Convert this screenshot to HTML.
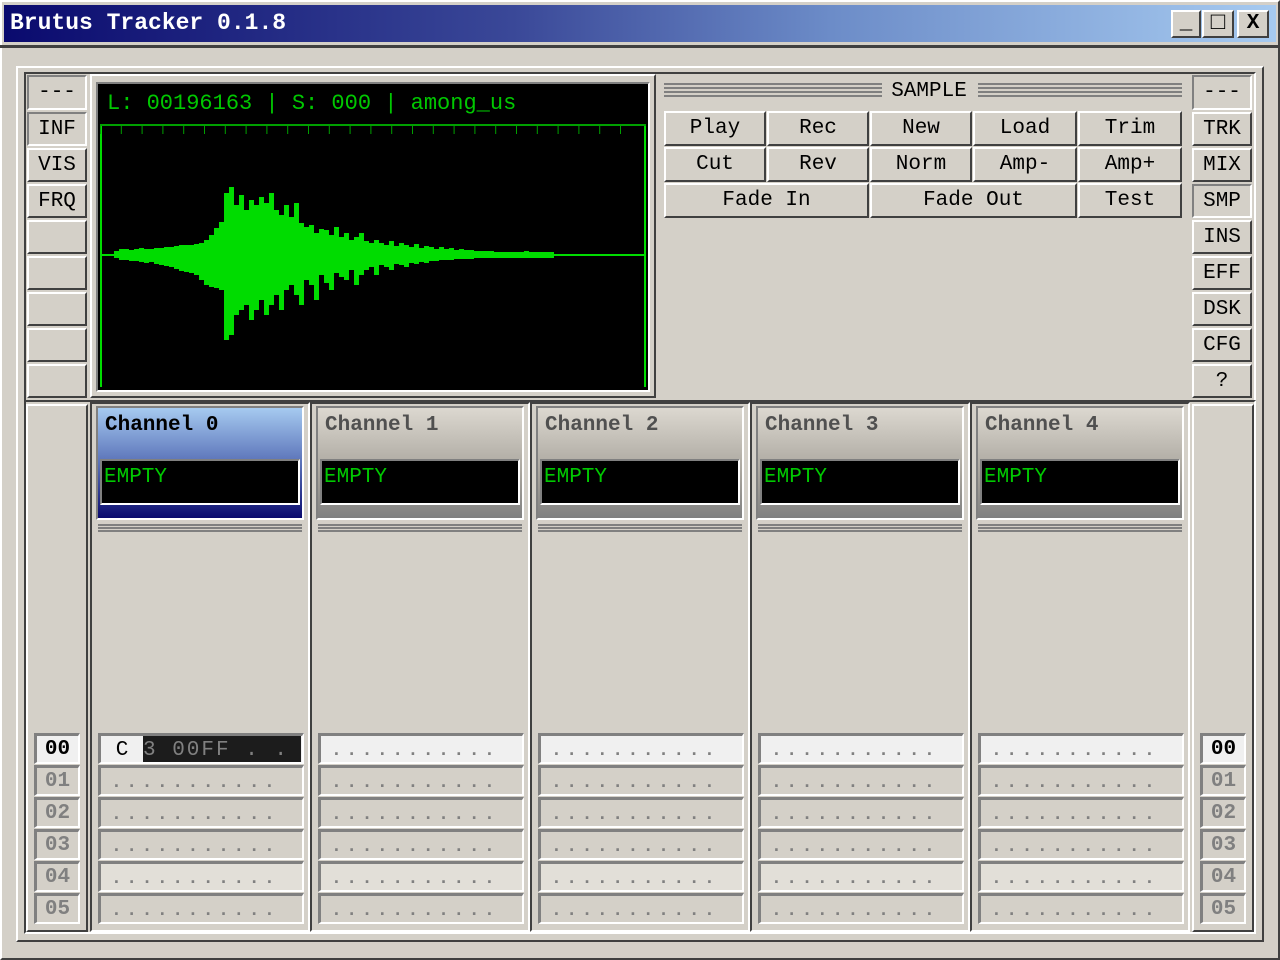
<!DOCTYPE html>
<html><head><meta charset="utf-8"><style>
*{margin:0;padding:0;box-sizing:border-box}
body{width:1280px;height:960px;background:#d4d0c8;position:relative;overflow:hidden;font-family:"Liberation Mono",monospace}
.a{position:absolute}
.rz{position:absolute;background:#d4d0c8;border:2px solid;border-color:#fff #404040 #404040 #fff;text-align:center;font-size:21px;color:#000;line-height:31px}
.sk{border-color:#808080 #fff #fff #808080}
.frm{position:absolute;border:2px solid;border-color:#fff #404040 #404040 #fff}
.frmi{position:absolute;border:2px solid;border-color:#404040 #fff #fff #404040}
.row{position:absolute;height:31px;overflow:hidden;border-top:3px solid #808080;border-left:3px solid #808080;border-bottom:2px solid #fff;border-right:2px solid #fff;background:#d4d0c8;color:#808080;font-size:18px;font-weight:bold;letter-spacing:4.5px;padding-left:10px;line-height:30px;white-space:pre}
.num{position:absolute;left:34px;width:46px;height:31px;border-top:3px solid #808080;border-left:3px solid #808080;border-bottom:2px solid #fff;border-right:2px solid #fff;font-weight:bold;font-size:21px;color:#808080;text-align:center;line-height:28px}
.sep{position:absolute;height:9px;background:repeating-linear-gradient(#808080 0 2px,transparent 2px 3px,#808080 3px 5px,transparent 5px 6px,#808080 6px 8px,transparent 8px 9px)}
</style></head><body>
<div class="a" style="left:0;top:0;width:1280px;height:960px;border:2px solid;border-color:#fff #404040 #404040 #fff"></div>
<div class="a" style="left:4px;top:5px;width:1272px;height:37px;background:linear-gradient(90deg,#0a0a6e,#3a4898 40%,#6c8cc8 65%,#a6caf0)"></div>
<div class="a" style="left:10px;top:8px;color:#fff;font-weight:bold;font-size:23px;line-height:30px">Brutus Tracker 0.1.8</div>
<div class="rz" style="left:1171px;top:10px;width:30px;height:28px;font-weight:bold;line-height:24px">_</div>
<div class="rz" style="left:1202px;top:10px;width:32px;height:28px;font-size:24px;line-height:24px">□</div>
<div class="rz" style="left:1237px;top:10px;width:32px;height:28px;font-weight:bold;line-height:24px">X</div>
<div class="a" style="left:0;top:45px;width:1280px;height:3px;background:#404040"></div>
<div class="frm" style="left:16px;top:66px;width:1248px;height:876px"></div>
<div class="frmi" style="left:24px;top:72px;width:1232px;height:330px"></div>
<div class="frmi" style="left:24px;top:400px;width:1232px;height:534px"></div>

<div class="rz sk" style="left:27px;top:75px;width:60px;height:35px">---</div>
<div class="rz sk" style="left:27px;top:112px;width:60px;height:34px">INF</div>
<div class="rz" style="left:27px;top:148px;width:60px;height:34px">VIS</div>
<div class="rz" style="left:27px;top:184px;width:60px;height:34px">FRQ</div>
<div class="rz" style="left:27px;top:220px;width:60px;height:34px"></div>
<div class="rz" style="left:27px;top:256px;width:60px;height:34px"></div>
<div class="rz" style="left:27px;top:292px;width:60px;height:34px"></div>
<div class="rz" style="left:27px;top:328px;width:60px;height:34px"></div>
<div class="rz" style="left:27px;top:364px;width:60px;height:34px"></div>

<div class="rz sk" style="left:1192px;top:75px;width:60px;height:35px">---</div>
<div class="rz" style="left:1192px;top:112px;width:60px;height:34px">TRK</div>
<div class="rz" style="left:1192px;top:148px;width:60px;height:34px">MIX</div>
<div class="rz sk" style="left:1192px;top:184px;width:60px;height:34px">SMP</div>
<div class="rz" style="left:1192px;top:220px;width:60px;height:34px">INS</div>
<div class="rz" style="left:1192px;top:256px;width:60px;height:34px">EFF</div>
<div class="rz" style="left:1192px;top:292px;width:60px;height:34px">DSK</div>
<div class="rz" style="left:1192px;top:328px;width:60px;height:34px">CFG</div>
<div class="rz" style="left:1192px;top:364px;width:60px;height:34px">?</div>

<div class="frm" style="left:90px;top:74px;width:566px;height:324px"></div>
<div class="a" style="left:96px;top:82px;width:554px;height:310px;background:#000;border:2px solid;border-color:#808080 #fff #fff #808080"></div>
<div class="a" style="left:107px;top:89px;color:#00c800;font-size:22px;line-height:30px;white-space:pre">L: 00196163 | S: 000 | among_us</div>
<svg class="a" style="left:0;top:0" width="1280" height="960" id="wv"></svg>

<div class="a" style="left:664px;top:80px;width:518px;height:22px">
<div class="sep" style="left:0;top:3px;width:218px;height:15px;background:repeating-linear-gradient(#808080 0 2px,transparent 2px 4px)"></div>
<div class="a" style="left:222px;top:0;width:86px;text-align:center;font-size:21px;line-height:24px">SAMPLE</div>
<div class="sep" style="left:314px;top:3px;width:204px;height:15px;background:repeating-linear-gradient(#808080 0 2px,transparent 2px 4px)"></div>
</div>
<div class="rz" style="left:664px;top:111px;width:102px;height:35px">Play</div>
<div class="rz" style="left:767px;top:111px;width:102px;height:35px">Rec</div>
<div class="rz" style="left:870px;top:111px;width:102px;height:35px">New</div>
<div class="rz" style="left:973px;top:111px;width:104px;height:35px">Load</div>
<div class="rz" style="left:1078px;top:111px;width:104px;height:35px">Trim</div>
<div class="rz" style="left:664px;top:147px;width:102px;height:35px">Cut</div>
<div class="rz" style="left:767px;top:147px;width:102px;height:35px">Rev</div>
<div class="rz" style="left:870px;top:147px;width:102px;height:35px">Norm</div>
<div class="rz" style="left:973px;top:147px;width:104px;height:35px">Amp-</div>
<div class="rz" style="left:1078px;top:147px;width:104px;height:35px">Amp+</div>
<div class="rz" style="left:664px;top:183px;width:205px;height:35px">Fade In</div>
<div class="rz" style="left:870px;top:183px;width:207px;height:35px">Fade Out</div>
<div class="rz" style="left:1078px;top:183px;width:104px;height:35px">Test</div>

<div class="frm" style="left:26px;top:404px;width:62px;height:528px"></div>
<div class="frm" style="left:1192px;top:404px;width:62px;height:528px"></div>
<div id="rows"></div>

<script>
const topAmp=[4,6,6,5,6,7,6,6,7,7,8,8,9,10,10,10,11,12,15,20,27,33,62,68,50,60,45,55,50,58,52,62,45,40,50,38,52,32,28,30,22,26,25,20,28,18,22,15,18,22,14,12,15,12,10,14,9,12,10,8,11,7,9,8,6,8,6,7,5,6,5,5,4,4,4,4,3,3,3,3,3,3,4,3,3,3,3,3];
const botAmp=[3,5,5,6,6,7,8,7,9,10,11,12,14,16,17,18,20,25,30,32,33,35,85,80,60,55,50,65,55,45,60,50,40,55,35,30,40,50,25,30,45,20,28,35,18,22,25,15,30,20,15,12,20,10,12,15,9,10,12,8,9,7,8,6,6,5,5,5,4,4,4,4,3,3,3,3,3,3,3,3,3,3,3,3,3,3,3,3];
const channels=["Channel 0","Channel 1","Channel 2","Channel 3","Channel 4"];
const rowLabels=["00","01","02","03","04","05"];
const NS="http://www.w3.org/2000/svg";
const svg=document.getElementById('wv');
function xs(i){return 114+i*5;}
function ys(v){return 255-v;}
const G="#00dc00";
function mk(t,a){const e=document.createElementNS(NS,t);for(const k in a)e.setAttribute(k,a[k]);svg.appendChild(e);return e;}
mk('rect',{x:100,y:125,width:2,height:262,fill:G});
mk('rect',{x:644,y:125,width:2,height:262,fill:G});
mk('rect',{x:100,y:124,width:546,height:2,fill:"#00a000"});
for(let k=0;k<26;k++){const tx=100+k*20.8;if(tx>644)break;mk('rect',{x:tx,y:126,width:1,height:8,fill:"#00a000"});}
mk('rect',{x:102,y:254,width:542,height:2,fill:G});
for(let i=0;i<topAmp.length;i++){
  const b=mk('rect',{x:xs(i),y:ys(topAmp[i]),width:5,height:topAmp[i]+botAmp[i],fill:G});
  
  
}
const R=document.getElementById('rows');
let h='';
for(let c=0;c<channels.length;c++){
  const x=90+c*220;
  h+=`<div class="frmi" style="left:${x}px;top:402px;width:220px;height:530px"></div>`;
  const sel=c===0;
  h+=`<div class="a" style="left:${x+6}px;top:406px;width:208px;height:114px;border:2px solid;border-color:#808080 #fff #fff #808080;background:${sel?'linear-gradient(#a6caf0,#5a72b8 50%,#0a0a6e)':'linear-gradient(#dcd8d0,#a8a49c 60%,#808080)'}"></div>`;
  h+=`<div class="a" style="left:${x+15}px;top:411px;font-weight:bold;font-size:21px;line-height:30px;color:${sel?'#000':'#505050'}">${channels[c]}</div>`;
  h+=`<div class="a" style="left:${x+10}px;top:459px;width:200px;height:46px;background:#000;border:2px solid;border-color:#808080 #fff #fff #808080;color:#00c800;font-size:21px;line-height:34px;padding-left:2px">EMPTY</div>`;
  h+=`<div class="sep" style="left:${x+8}px;top:524px;width:204px"></div>`;
  for(let r=0;r<rowLabels.length;r++){
    const y=733+r*32;
    let bg=r===4?'#e2dfd8':(r===0?'#f0f0f0':'#d4d0c8');
    if(sel&&r===0){
      h+=`<div class="row" style="left:${x+8}px;top:${y}px;width:206px;background:#f0f0f0;padding:0;font-weight:normal;letter-spacing:0"><span style="display:inline-block;width:42px;text-align:center;color:#000;font-size:21px">C</span><span style="display:inline-block;background:#1c1c1c;width:158px;height:28px;color:#808080;font-size:21px;letter-spacing:2px;padding-left:0">3 00FF . . . .</span></div>`;
    } else {
      h+=`<div class="row" style="left:${x+8}px;top:${y}px;width:206px;background:${bg}">...........</div>`;
    }
  }
}
for(let r=0;r<rowLabels.length;r++){
  const y=733+r*32;
  const st=r===0?'color:#000;background:#f0f0f0':'';
  h+=`<div class="num" style="top:${y}px;${st}">${rowLabels[r]}</div>`;
  h+=`<div class="num" style="left:1200px;top:${y}px;${st}">${rowLabels[r]}</div>`;
}
R.innerHTML=h;
</script>
</body></html>
